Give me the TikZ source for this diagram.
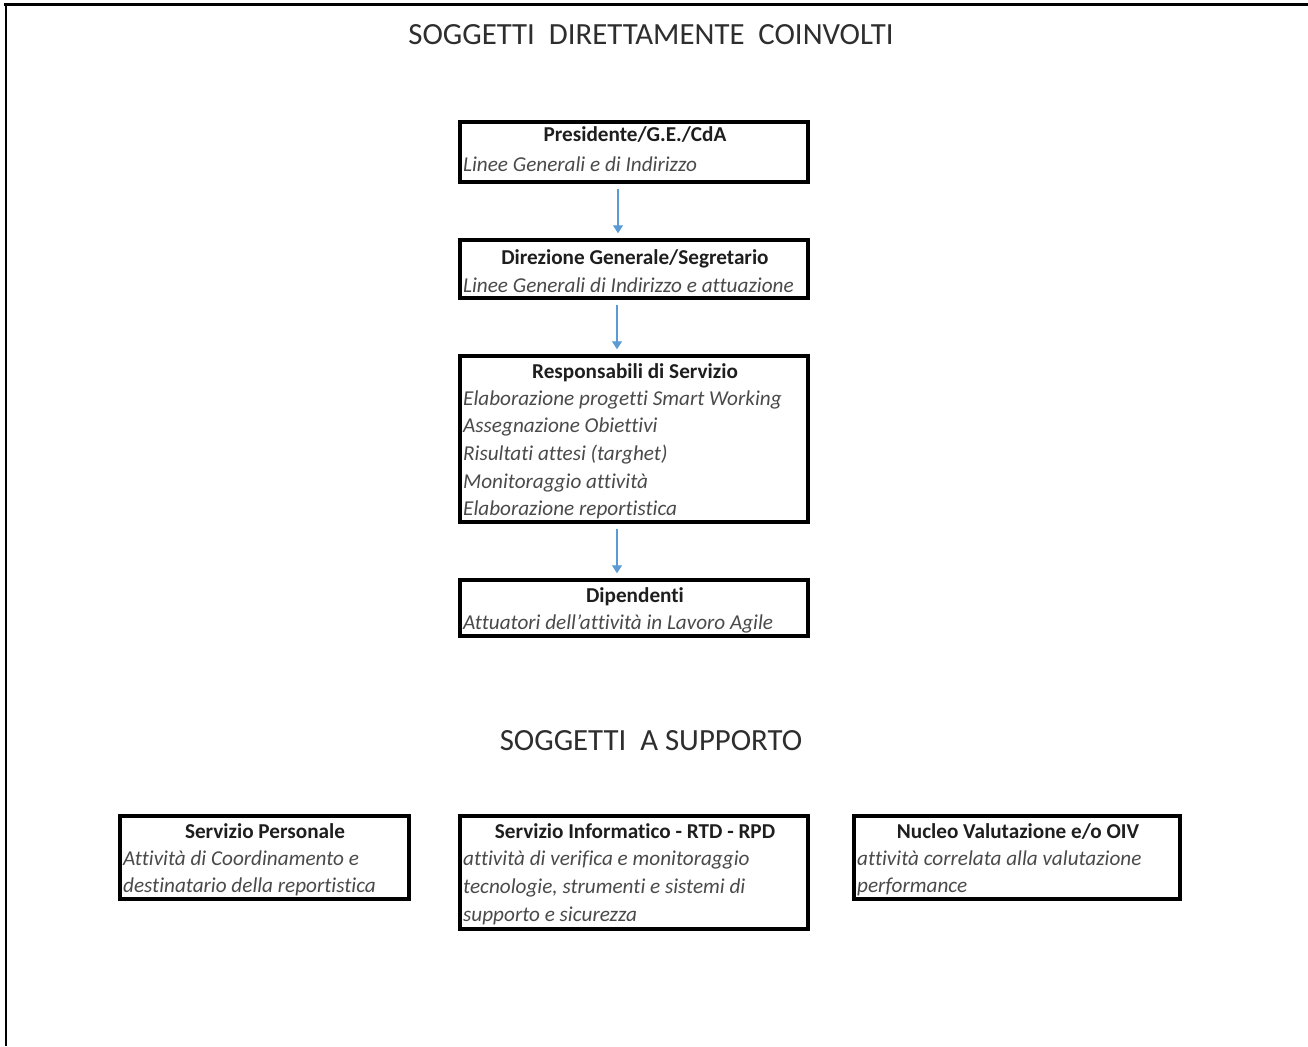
\documentclass[tikz,border=0pt]{standalone}
\usepackage{fontspec}
\setmainfont[RawFeature=-liga]{Carlito}
\usetikzlibrary{arrows.meta}
\definecolor{arrblue}{HTML}{5B9BD5}
\definecolor{headc}{HTML}{1E1E1E}
\definecolor{itc}{HTML}{4A4A4A}
\definecolor{titc}{HTML}{2E2E2E}
\begin{document}
\begin{tikzpicture}[x=1pt,y=-1pt,
  box/.style={draw=black,line width=3.5pt,inner sep=0pt,fill=none},
  head/.style={anchor=base,inner sep=0pt,font=\fontsize{21.2}{24}\selectfont\bfseries,text=headc},
  itl/.style={anchor=base west,inner sep=0pt,font=\fontsize{21.2}{24}\selectfont\itshape,text=itc},
  ttl/.style={anchor=base,inner sep=0pt,font=\fontsize{30.8}{36}\selectfont,text=titc},
  arr/.style={draw=arrblue,line width=1.4pt,-{Triangle[length=8pt,width=10pt]},shorten <=5pt,shorten >=5pt}]
\useasboundingbox (0,0) rectangle (1308,1046);
\fill[white] (0,0) rectangle (1308,1046);
% frame lines
\draw[line width=3pt] (4,5) -- (1308,5);
\draw[line width=2.5pt] (6,5) -- (6,1046);
% titles
\node[ttl] (t1) at (651,45) {SOGGETTI\ \ DIRETTAMENTE\ \ COINVOLTI};
\node[ttl] (t2) at (651,750) {SOGGETTI\ \ A SUPPORTO};
% boxes
\node[box,minimum width=348pt,minimum height=60pt] (b1) at (634,152) {};
\node[box,minimum width=348pt,minimum height=58pt] (b2) at (634,269) {};
\node[box,minimum width=348pt,minimum height=166pt] (b3) at (634,439) {};
\node[box,minimum width=348pt,minimum height=56pt] (b4) at (634,608) {};
\node[box,minimum width=289pt,minimum height=83pt] (b5) at (264.5,857.5) {};
\node[box,minimum width=348pt,minimum height=113pt] (b6) at (634,872.5) {};
\node[box,minimum width=326pt,minimum height=83pt] (b7) at (1017,857.5) {};
% box texts
\node[head] (h1) at (635,142) {Presidente/G.E./CdA};
\node[itl] (i1) at (463,171) {Linee Generali e di Indirizzo};
\node[head] (h2) at (635,264) {Direzione Generale/Segretario};
\node[itl] (i2) at (463,292) {Linee Generali di Indirizzo e attuazione};
\node[head] (h3) at (635,378) {Responsabili di Servizio};
\node[itl] (i3a) at (463,405) {Elaborazione progetti Smart Working};
\node[itl] (i3b) at (463,432) {Assegnazione Obiettivi};
\node[itl] (i3c) at (463,460) {Risultati attesi (targhet)};
\node[itl] (i3d) at (463,488) {Monitoraggio attività};
\node[itl] (i3e) at (463,515) {Elaborazione reportistica};
\node[head] (h4) at (635,602) {Dipendenti};
\node[itl] (i4) at (463,629) {Attuatori dell’attività in Lavoro Agile};
\node[head] (h5) at (265,838) {Servizio Personale};
\node[itl] (i5a) at (123,865) {Attività di Coordinamento e};
\node[itl] (i5b) at (123,892) {destinatario della reportistica};
\node[head] (h6) at (635,838) {Servizio Informatico - RTD - RPD};
\node[itl] (i6a) at (463,865) {attività di verifica e monitoraggio};
\node[itl] (i6b) at (463,893) {tecnologie, strumenti e sistemi di};
\node[itl] (i6c) at (463,921) {supporto e sicurezza};
\node[head] (h7) at (1018,838) {Nucleo Valutazione e/o OIV};
\node[itl] (i7a) at (857,865) {attività correlata alla valutazione};
\node[itl] (i7b) at (857,892) {performance};
% arrows
\draw[arr] ([xshift=-16pt]b1.south) -- ([xshift=-16pt]b2.north);
\draw[arr] ([xshift=-17pt]b2.south) -- ([xshift=-17pt]b3.north);
\draw[arr] ([xshift=-17pt]b3.south) -- ([xshift=-17pt]b4.north);
\end{tikzpicture}
\end{document}
